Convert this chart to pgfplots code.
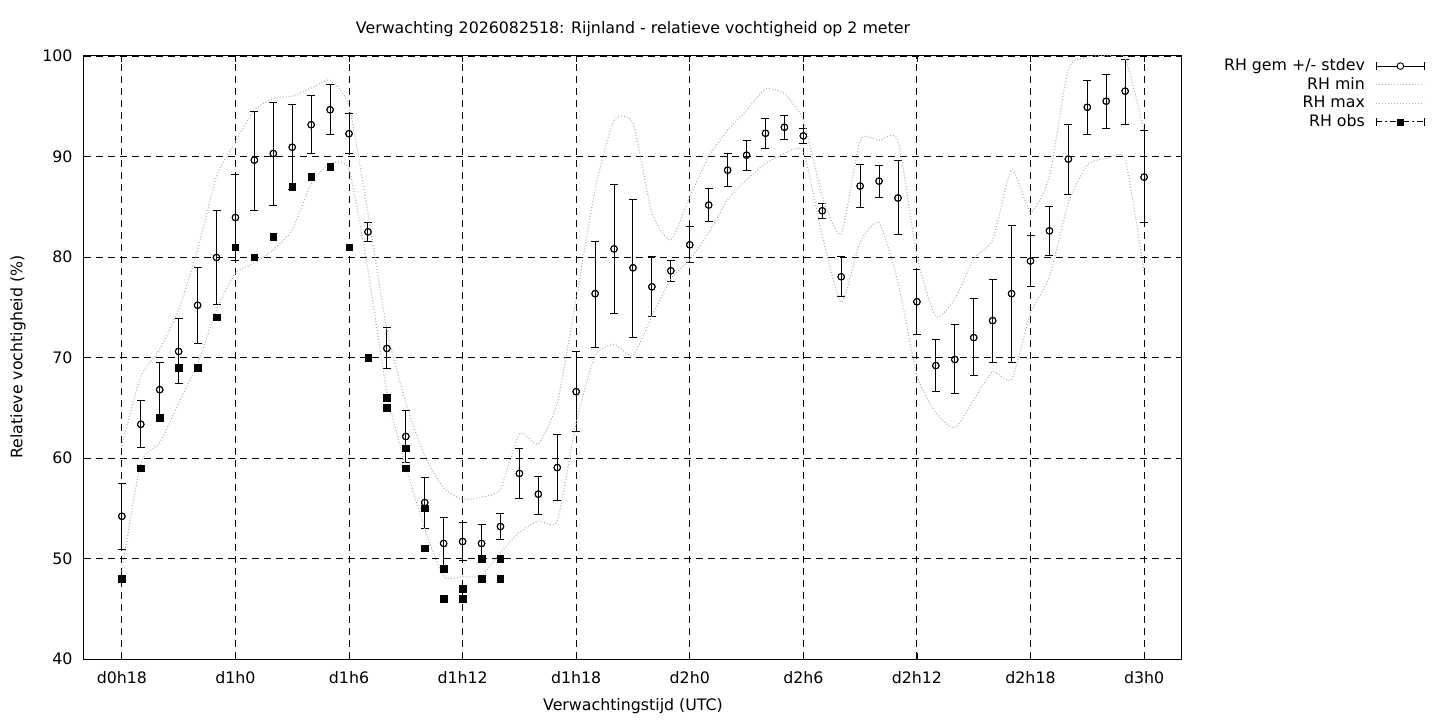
\documentclass[border=0pt]{standalone}
\usepackage{pgfplots}
\usepackage{pgfplotstable}
\pgfplotsset{compat=1.18}
\usetikzlibrary{calc}
\usepackage{fontspec}
\setmainfont{DejaVu Sans}
\pgfplotstableread{
h m hi lo mn mx
18 54.2 57.5 50.9 48.7 61.2
19 63.35 65.7 61.0 59.5 68.1
20 66.8 69.5 64.0 61.5 70.8
21 70.6 73.9 67.4 65.5 74.75
22 75.2 78.95 71.35 69.4 80.7
23 79.95 84.6 75.3 74.75 88.0
24 83.93 88.2 79.7 78.4 91.5
25 89.64 94.5 84.65 79.4 94.6
26 90.3 95.35 85.15 80.7 95.8
27 90.92 95.15 86.75 82.7 96.0
28 93.16 96.02 90.25 87.3 96.8
29 94.65 97.13 92.16 89.3 97.6
30 92.27 94.25 90.25 88.7 95.0
31 82.5 83.43 81.5 78.7 84.4
32 70.9 73.0 68.9 66.5 72.8
33 62.14 64.73 59.55 59.2 65.5
34 55.57 58.06 52.98 52.9 60.2
35 51.5 54.08 49.0 48.2 57.0
36 51.69 53.58 49.83 48.2 55.9
37 51.5 53.35 49.6 48.3 56.1
38 53.18 54.48 51.9 50.6 56.9
39 58.46 60.9 55.97 52.6 62.4
40 56.4 58.2 54.4 53.75 61.4
41 59.05 62.3 55.77 53.75 65.5
42 66.6 70.6 62.6 63.5 75.8
43 76.35 81.57 70.99 70.2 86.7
44 80.81 87.22 74.36 71.3 93.6
45 78.93 85.77 71.98 70.2 93.3
46 77.04 80.0 74.07 74.1 84.4
47 78.63 79.69 77.57 77.8 81.7
48 81.21 82.99 79.42 79.75 86.0
49 85.17 86.83 83.49 82.4 90.0
50 88.64 90.33 87.06 85.7 92.6
51 90.13 91.59 88.58 87.7 94.6
52 92.31 93.8 90.83 89.3 96.7
53 92.91 94.1 91.72 90.3 96.25
54 92.05 92.8 91.26 90.5 93.6
55 84.6 85.37 83.82 82.1 86.05
56 78.03 80.0 76.05 75.5 82.3
57 87.06 89.24 84.88 81.45 91.6
58 87.55 89.14 85.97 83.4 91.6
59 85.87 89.64 82.2 77.5 91.6
60 75.55 78.76 72.28 68.2 80.1
61 69.2 71.79 66.63 64.5 74.1
62 69.8 73.28 66.43 63.0 75.8
63 71.98 75.85 68.21 65.8 79.8
64 73.67 77.74 69.5 68.6 81.7
65 76.35 83.1 69.5 67.8 88.7
66 79.6 82.1 77.1 74.4 84.5
67 82.6 85.07 80.1 78.0 88.0
68 89.74 93.2 86.17 85.4 98.7
69 94.9 97.55 92.2 89.2 99.9
70 95.5 98.18 92.8 89.8 100
71 96.5 99.7 93.2 89.7 99.8
72 87.95 92.6 83.4 78.5 92.5
}\datatable
\begin{document}
\fontsize{15.8}{19}\selectfont
\begin{tikzpicture}
\begin{axis}[
  scale only axis, width=1098pt, height=603pt,
  xmin=16, xmax=74, ymin=40, ymax=100,
  xtick={18,24,30,36,42,48,54,60,66,72},
  xticklabels={d0h18,d1h0,d1h6,d1h12,d1h18,d2h0,d2h6,d2h12,d2h18,d3h0},
  ytick={40,50,60,70,80,90,100},
  /pgf/number format/assume math mode=true,
  ticklabel style={font=\fontsize{15.8}{19}\selectfont},
  tick align=inside, major tick length=6pt,
  tick style={black, line width=0.8pt},
  axis line style={black, line width=1pt},
  grid=major,
  major grid style={black, line width=0.9pt, dash pattern=on 7pt off 5pt},
  xticklabel style={yshift=-7pt},
  yticklabel style={xshift=-6pt},
  legend cell align=right,
  legend plot pos=right,
  legend style={at={(1.2215,0.998)}, anchor=north east, draw=none, fill=none,
    font=\fontsize{15.8}{19}\selectfont, row sep=1.4pt, inner sep=0pt,
    nodes={inner sep=1.5pt}},
]
\coordinate (BL) at (rel axis cs:0,0);
\addplot[black, line width=0.9pt, only marks, mark=o, mark size=3.3pt,
  mark options={fill=white, line width=0.9pt},
  legend image code/.code={
    \path[draw=none, fill=none] (0pt,0pt) rectangle (10pt,0.1pt);
    \draw[line width=1pt] (10pt,0pt)--(58pt,0pt);
    \draw[line width=1pt] (10pt,-4pt)--(10pt,4pt);
    \draw[line width=1pt] (58pt,-4pt)--(58pt,4pt);
    \draw[line width=0.9pt, fill=white] (34pt,0pt) circle (3.3pt);
  },
  error bars/.cd, y dir=both, y explicit,
  error bar style={line width=1pt},
  error mark options={rotate=90, mark size=4pt, line width=1pt}]
  table[x=h, y=m, y error plus expr=\thisrow{hi}-\thisrow{m}, y error minus expr=\thisrow{m}-\thisrow{lo}] {\datatable};
\addlegendentry{RH gem +/- stdev}
\addplot[black!30, line width=1.1pt, dash pattern=on 1pt off 2pt, smooth, tension=0.35,
  legend image code/.code={\path[draw=none, fill=none] (0pt,0pt) rectangle (10pt,0.1pt);
    \draw[black!30, line width=1.1pt, dash pattern=on 1pt off 2pt] (10pt,0pt)--(58pt,0pt);}]
  table[x=h, y=mn] {\datatable};
\addlegendentry{RH min}
\addplot[black!30, line width=1.1pt, dash pattern=on 1pt off 2pt, smooth, tension=0.35,
  legend image code/.code={\path[draw=none, fill=none] (0pt,0pt) rectangle (10pt,0.1pt);
    \draw[black!30, line width=1.1pt, dash pattern=on 1pt off 2pt] (10pt,0pt)--(58pt,0pt);}]
  table[x=h, y=mx] {\datatable};
\addlegendentry{RH max}
\addplot[black, only marks, mark=square*, mark size=3.2pt,
  legend image code/.code={
    \path[draw=none, fill=none] (0pt,0pt) rectangle (10pt,0.1pt);
    \draw[line width=1pt, dash pattern=on 6pt off 3pt on 1.5pt off 3pt] (10pt,0pt)--(58pt,0pt);
    \draw[line width=1pt] (10pt,-4pt)--(10pt,4pt);
    \draw[line width=1pt] (58pt,-4pt)--(58pt,4pt);
    \fill (30.8pt,-3.2pt) rectangle (37.2pt,3.2pt);
  }] coordinates {
  (18,48) (19,59) (20,64) (21,69) (22,69) (23,74) (24,81) (25,80) (26,82)
  (27,87) (28,88) (29,89) (30,81) (31,70) (32,66) (32,65) (33,61) (33,59)
  (34,55) (34,51) (35,49) (35,46) (36,47) (36,46) (37,50) (37,48) (38,50) (38,48)
};
\addlegendentry{RH obs}
\addplot[black, only marks, mark=o, mark size=3.3pt, mark options={fill=white, line width=0.9pt}, forget plot]
  table[x=h, y=m] {\datatable};
\end{axis}
\node at ($(BL)+(549pt,630pt)$) {Verwachting 2026082518: Rijnland - relatieve vochtigheid op 2 meter};
\node at ($(BL)+(549pt,-47pt)$) {Verwachtingstijd (UTC)};
\node[rotate=90] at ($(BL)+(-66pt,302pt)$) {Relatieve vochtigheid (\%)};
\pgfresetboundingbox
\path[use as bounding box] ($(BL)+(-84pt,-61pt)$) rectangle ($(BL)+(1356pt,659pt)$);
\end{tikzpicture}
\end{document}
